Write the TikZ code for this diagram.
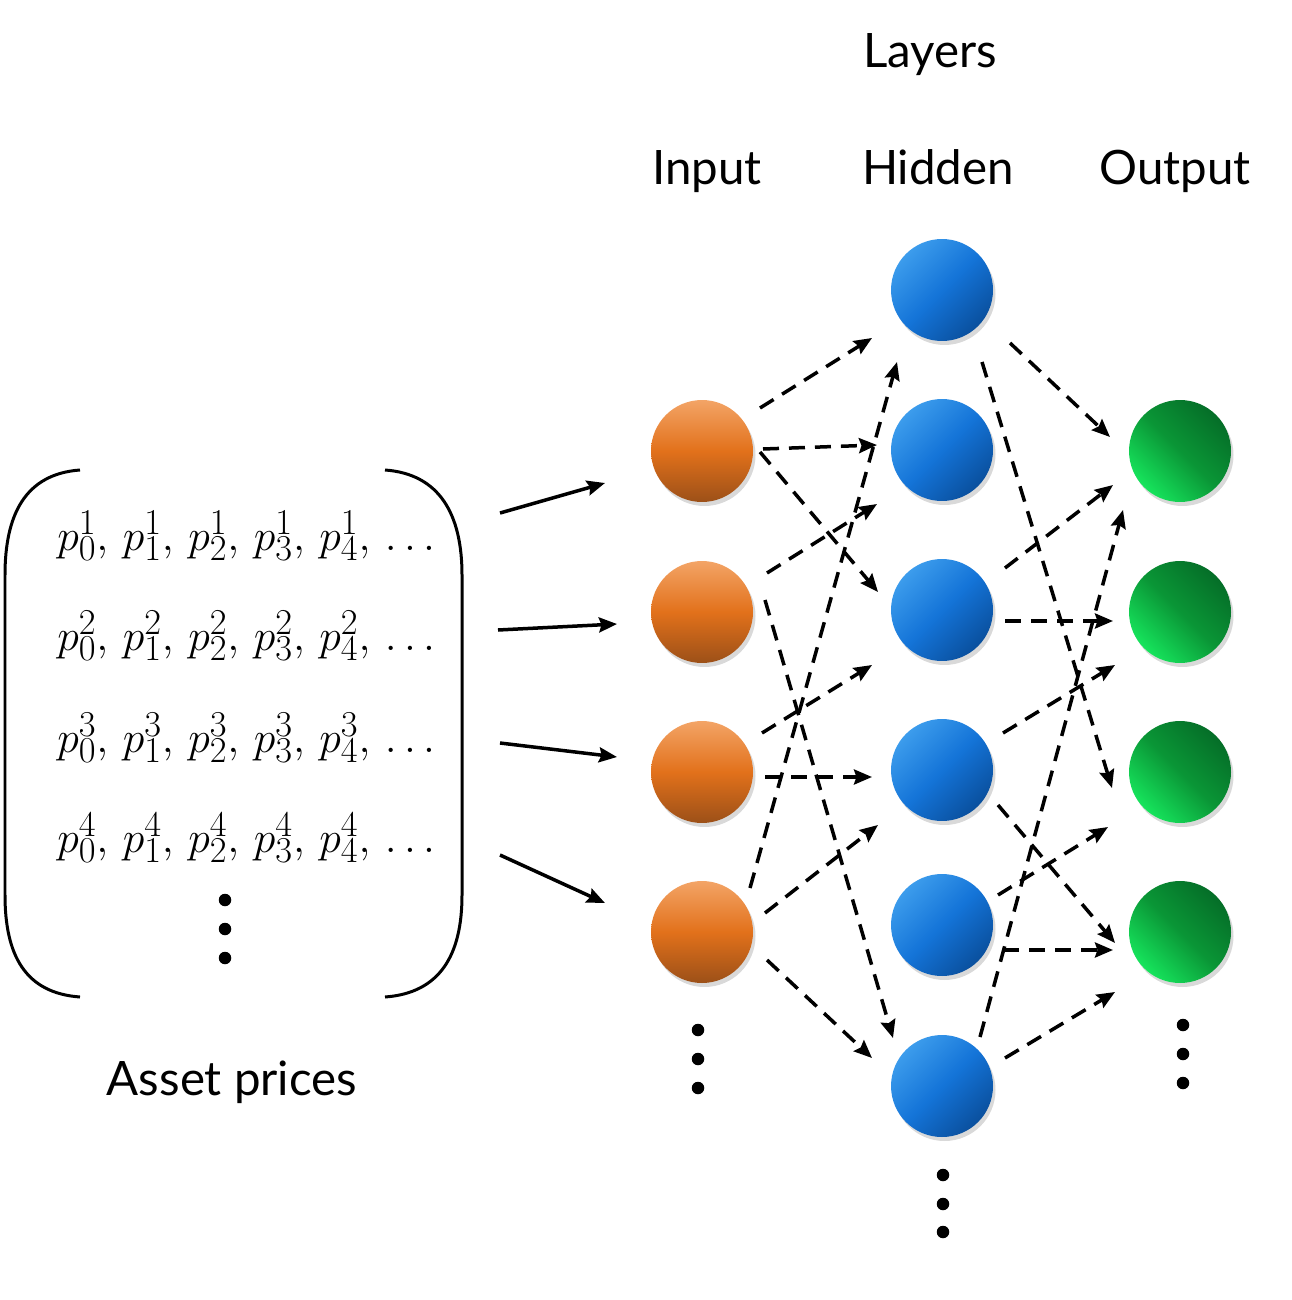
\documentclass[tikz,border=0pt]{standalone}
\usepackage{fontspec}
\setmainfont{Lato}
\usetikzlibrary{arrows.meta,calc,shadows}

\definecolor{orTop}{HTML}{F3A466}
\definecolor{orMid}{HTML}{E2711B}
\definecolor{orBot}{HTML}{9C5018}
\definecolor{blLight}{HTML}{3C9CEC}
\definecolor{blMid}{HTML}{1474D8}
\definecolor{blDark}{HTML}{0A509E}
\definecolor{grLight}{HTML}{16E45C}
\definecolor{grMid}{HTML}{0A9636}
\definecolor{grDark}{HTML}{056E28}

\newcommand{\pitem}[2]{p_{#1}^{#2},\,}

\begin{document}
\begin{tikzpicture}[x=0.02cm, y=-0.02cm,
  bub/.style={circle, minimum size=2.04cm, inner sep=0pt,
    drop shadow={shadow xshift=0.05cm, shadow yshift=-0.08cm, opacity=0.3}},
  inbub/.style={bub, top color=orTop, bottom color=orBot, middle color=orMid},
  hidbub/.style={bub, top color=blLight, bottom color=blDark, middle color=blMid, shading angle=45},
  outbub/.style={bub, top color=grDark, bottom color=grLight, middle color=grMid, shading angle=-45},
  conn/.style={line width=0.07cm, dash pattern=on 0.32cm off 0.2cm,
    -{Stealth[length=0.36cm, width=0.3cm, inset=0.05cm]}},
  feed/.style={line width=0.07cm, -{Stealth[length=0.36cm, width=0.3cm, inset=0.05cm]}},
  lbl/.style={anchor=base, font=\fontsize{27}{32}\selectfont},
  row/.style={anchor=base west, inner sep=0pt, font=\fontsize{29}{34}\selectfont},
  dot/.style={circle, fill, inner sep=0pt, minimum size=0.25cm}]

\useasboundingbox (0,0) rectangle (1291,1300);

%Titles
\node[lbl] (layers) at (930,68) {Layers};
\node[lbl] (tin) at (707,185) {Input};
\node[lbl] (thid) at (938,185) {Hidden};
\node[lbl] (tout) at (1175,185) {Output};

%Asset prices
\draw[line width=0.06cm] (80,470) .. controls (25,474) and (5,515) .. (5,575) -- (5,895) .. controls (5,955) and (25,993) .. (80,997);
\draw[line width=0.06cm] (385,470) .. controls (440,474) and (462,515) .. (462,575) -- (462,895) .. controls (462,955) and (440,993) .. (385,997);
\node[row] (r1) at (57,550) {$\pitem01\pitem11\pitem21\pitem31\pitem41\ldots$};
\node[row] (r2) at (57,650) {$\pitem02\pitem12\pitem22\pitem32\pitem42\ldots$};
\node[row] (r3) at (57,752) {$\pitem03\pitem13\pitem23\pitem33\pitem43\ldots$};
\node[row] (r4) at (57,852) {$\pitem04\pitem14\pitem24\pitem34\pitem44\ldots$};
\node[dot] (md1) at (225,900) {};
\node[dot] (md2) at (225,929) {};
\node[dot] (md3) at (225,958) {};
\node[lbl] (assets) at (232,1095) {Asset prices};

%Input layer
\node[inbub] (i1) at (702,451) {};
\node[inbub] (i2) at (702,612) {};
\node[inbub] (i3) at (702,772) {};
\node[inbub] (i4) at (702,932) {};
\node[dot] (id1) at (698,1030) {};
\node[dot] (id2) at (698,1059) {};
\node[dot] (id3) at (698,1088) {};

%Hidden layer
\node[hidbub] (h1) at (942,290) {};
\node[hidbub] (h2) at (942,450) {};
\node[hidbub] (h3) at (942,610) {};
\node[hidbub] (h4) at (942,770) {};
\node[hidbub] (h5) at (942,925) {};
\node[hidbub] (h6) at (942,1086) {};
\node[dot] (hd1) at (943,1175) {};
\node[dot] (hd2) at (943,1204) {};
\node[dot] (hd3) at (943,1232) {};

%Output layer
\node[outbub] (o1) at (1180,451) {};
\node[outbub] (o2) at (1180,612) {};
\node[outbub] (o3) at (1180,772) {};
\node[outbub] (o4) at (1180,932) {};
\node[dot] (od1) at (1183,1025) {};
\node[dot] (od2) at (1183,1054) {};
\node[dot] (od3) at (1183,1083) {};

%Prices into input
\coordinate (a1) at (500,513);
\coordinate (a2) at (498,630);
\coordinate (a3) at (500,743);
\coordinate (a4) at (500,855);
\draw[feed] (a1) -- ($(i1)+(-97,32)$);
\draw[feed] (a2) -- ($(i2)+(-85,12)$);
\draw[feed] (a3) -- ($(i3)+(-85,-15)$);
\draw[feed] (a4) -- ($(i4)+(-97,-29)$);

%Input to hidden
\draw[conn] ($(i1)+(58,-43)$) -- ($(h1)+(-70,48)$);
\draw[conn] ($(i1)+(61,-2)$) -- ($(h2)+(-65,-5)$);
\draw[conn] ($(i1)+(58,1)$) -- ($(h3)+(-64,-18)$);
\draw[conn] ($(i2)+(65,-39)$) -- ($(h2)+(-65,54)$);
\draw[conn] ($(i2)+(63,-12)$) -- ($(h6)+(-49,-48)$);
\draw[conn] ($(i3)+(60,-39)$) -- ($(h3)+(-70,55)$);
\draw[conn] ($(i3)+(63,5)$) -- ($(h4)+(-70,7)$);
\draw[conn] ($(i4)+(48,-44)$) -- ($(h1)+(-45,72)$);
\draw[conn] ($(i4)+(63,-19)$) -- ($(h4)+(-64,55)$);
\draw[conn] ($(i4)+(65,28)$) -- ($(h6)+(-70,-28)$);

%Hidden to output
\draw[conn] ($(h1)+(68,53)$) -- ($(o1)+(-70,-14)$);
\draw[conn] ($(h1)+(40,72)$) -- ($(o3)+(-68,16)$);
\draw[conn] ($(h3)+(63,-42)$) -- ($(o1)+(-67,34)$);
\draw[conn] ($(h3)+(63,11)$) -- ($(o2)+(-67,9)$);
\draw[conn] ($(h4)+(61,-37)$) -- ($(o2)+(-65,53)$);
\draw[conn] ($(h4)+(56,35)$) -- ($(o4)+(-65,11)$);
\draw[conn] ($(h5)+(56,-30)$) -- ($(o3)+(-72,55)$);
\draw[conn] ($(h5)+(61,25)$) -- ($(o4)+(-67,18)$);
\draw[conn] ($(h6)+(38,-49)$) -- ($(o1)+(-57,59)$);
\draw[conn] ($(h6)+(63,-28)$) -- ($(o4)+(-65,60)$);

\end{tikzpicture}
\end{document}
